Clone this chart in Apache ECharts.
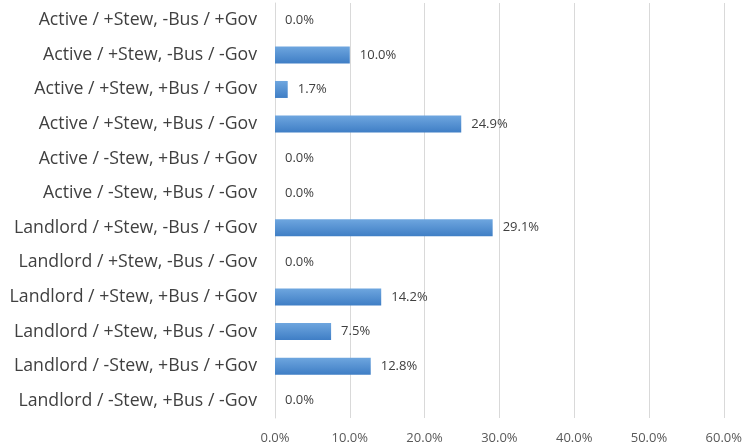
<!DOCTYPE html>
<html>
<head>
<meta charset="utf-8">
<script src="https://cdn.jsdelivr.net/npm/echarts@6/dist/echarts.min.js"></script>
<style>
  html, body { margin: 0; padding: 0; background: #ffffff; }
  #chart { width: 745px; height: 448px; }
</style>
</head>
<body>
<div id="chart"></div>
<script>
// Segment profiles, listed top to bottom
const categories = [
  'Active / +Stew, -Bus / +Gov',
  'Active / +Stew, -Bus / -Gov',
  'Active / +Stew, +Bus / +Gov',
  'Active / +Stew, +Bus / -Gov',
  'Active / -Stew, +Bus / +Gov',
  'Active / -Stew, +Bus / -Gov',
  'Landlord / +Stew, -Bus / +Gov',
  'Landlord / +Stew, -Bus / -Gov',
  'Landlord / +Stew, +Bus / +Gov',
  'Landlord / +Stew, +Bus / -Gov',
  'Landlord / -Stew, +Bus / +Gov',
  'Landlord / -Stew, +Bus / -Gov'
];

// Share of respondents in each segment (fraction)
const shares = [0.000, 0.100, 0.017, 0.249, 0.000, 0.000, 0.291, 0.000, 0.142, 0.075, 0.128, 0.000];

// Axis range and step
const axisMin = 0;
const axisMax = 0.6;
const axisStep = 0.1;

const pct = v => (v * 100).toFixed(1) + '%';

const chart = echarts.init(document.getElementById('chart'), null, { renderer: 'canvas' });

chart.setOption({
  animation: false,
  grid: { left: 275, right: 17, top: 3, bottom: 30, containLabel: false },
  xAxis: {
    type: 'value',
    min: axisMin,
    max: axisMax,
    interval: axisStep,
    axisLine: { show: false },
    axisTick: { show: false },
    splitLine: { show: true, lineStyle: { color: '#d9d9d9', width: 1 } },
    axisLabel: {
      formatter: pct,
      color: '#595959',
      fontFamily: 'Open Sans',
      fontSize: 13,
      margin: 14
    }
  },
  yAxis: {
    type: 'category',
    data: categories,
    inverse: true,
    axisLine: { show: true, lineStyle: { color: '#d9d9d9' } },
    axisTick: { show: false },
    axisLabel: {
      color: '#404040',
      fontFamily: 'Open Sans',
      fontSize: 17.7,
      margin: 18
    }
  },
  series: [{
    type: 'bar',
    data: shares,
    barWidth: 17,
    itemStyle: {
      color: new echarts.graphic.LinearGradient(0, 0, 0, 1, [
        { offset: 0, color: '#6ea6df' },
        { offset: 1, color: '#3f7ec5' }
      ]),
      borderWidth: 0
    },
    label: {
      show: true,
      position: 'right',
      distance: 10,
      formatter: p => pct(p.value),
      color: '#404040',
      fontFamily: 'Open Sans',
      fontSize: 13
    }
  }]
});
</script>
</body>
</html>
